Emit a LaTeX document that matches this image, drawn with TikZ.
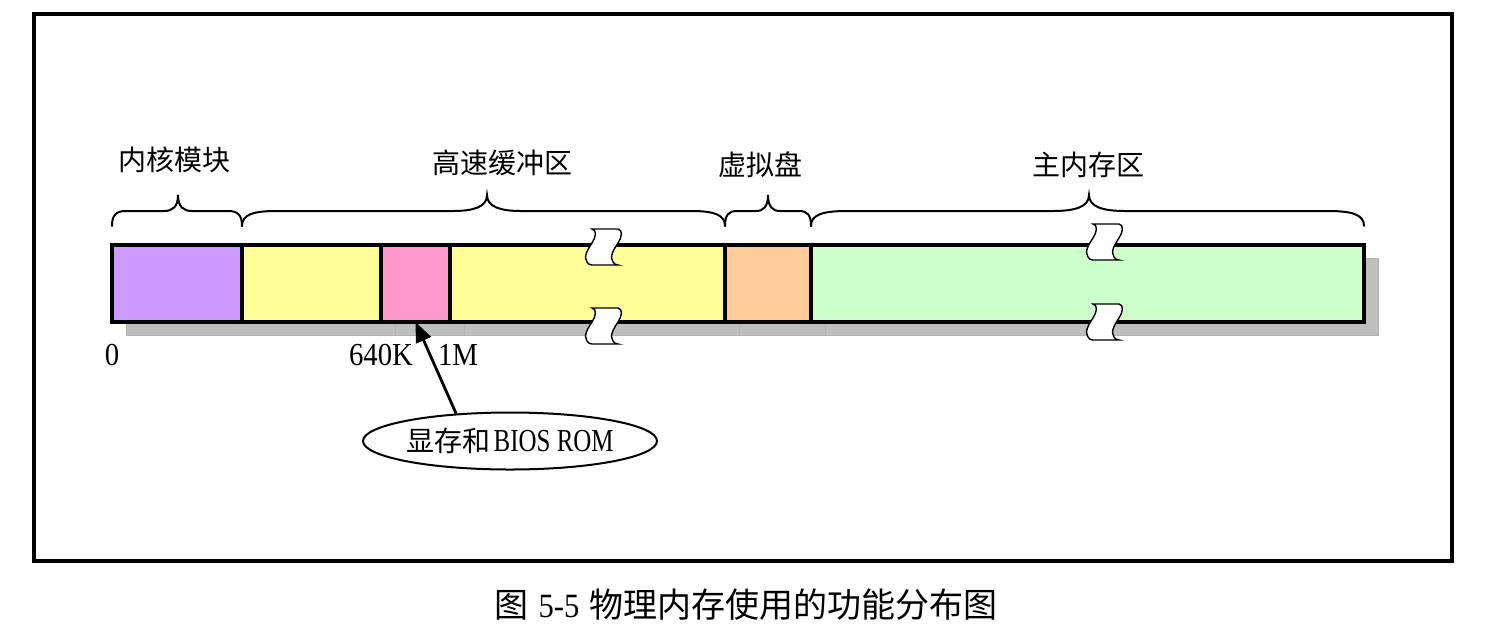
\documentclass[tikz,border=0pt]{standalone}
\usepackage{fontspec}
\newfontfamily\cjk{Noto Sans CJK SC}
\newfontfamily\latin[FakeStretch=0.9]{Liberation Serif}
\newfontfamily\latinnarrow[FakeStretch=0.78]{Liberation Serif}
\usetikzlibrary{arrows.meta,shapes.geometric,fit}

\definecolor{kernelc}{HTML}{CC99FF}
\definecolor{cachec}{HTML}{FFFF99}
\definecolor{romc}{HTML}{FF99CC}
\definecolor{diskc}{HTML}{FFCC99}
\definecolor{mainc}{HTML}{CCFFCC}
\definecolor{shadowc}{HTML}{BFBFBF}

% curly brace over a memory region: left end, right end, peak, end radius
\newcommand\regionbrace[4]{%
  \draw[bracestyle]
    (#1,226) .. controls (#1,215) and (#1+0.3*#4,211) .. (#1+#4,211)
    -- (#3-#4,211) .. controls (#3-0.4*#4,211) and (#3,207) .. (#3,195)
    .. controls (#3,207) and (#3+0.4*#4,211) .. (#3+#4,211)
    -- (#2-#4,211) .. controls (#2-0.3*#4,211) and (#2,215) .. (#2,226);%
}

\tikzset{
  segbox/.style={draw=black, line width=1.7pt, inner sep=0pt, outer sep=0pt},
  shadowbox/.style={fill=shadowc, draw=black!30, line width=0.4pt},
  bracestyle/.style={line width=1pt, line cap=round},
  cjklabel/.style={font=\cjk\fontsize{14}{16}\selectfont, inner sep=0pt},
  numlabel/.style={font=\latin\fontsize{16}{18}\selectfont, inner sep=0pt},
  breakmark/.pic={
    \filldraw[fill=white, draw=black, line width=0.7pt]
      (2,0) -- (28,0)
      .. controls (33,1) and (32,8) .. (28,14)
      .. controls (24,20) and (19,28) .. (23,33)
      .. controls (24,35) and (26,36) .. (28,36)
      -- (2,36)
      .. controls (0,36) and (-2,35) .. (-3,33)
      .. controls (-7,28) and (-2,20) .. (2,14)
      .. controls (6,8) and (7,1) .. (2,0) -- cycle;
  },
}

\begin{document}
\begin{tikzpicture}[x=0.5pt, y=-0.5pt]
\useasboundingbox (0,0) rectangle (1492,633);

% outer frame
\draw[line width=2pt] (34,14) rectangle (1452,561);

% drop shadows of the memory segments
\foreach \xa/\xb in {112/381, 381/450, 450/725, 725/811, 811/1364}
  \path[shadowbox] (\xa+14,258) rectangle (\xb+14,335);

% memory segments
\node[segbox, fill=kernelc, fit={(112,245) (242,322)}] (kernel) {};
\node[segbox, fill=cachec,  fit={(242,245) (381,322)}] (cachelow) {};
\node[segbox, fill=romc,    fit={(381,245) (450,322)}] (rom) {};
\node[segbox, fill=cachec,  fit={(450,245) (725,322)}] (cachehigh) {};
\node[segbox, fill=diskc,   fit={(725,245) (811,322)}] (ramdisk) {};
\node[segbox, fill=mainc,   fit={(811,245) (1364,322)}] (mainmem) {};

% break marks
\pic at (590,229) {breakmark};
\pic at (590,308) {breakmark};
\pic at (1091,224) {breakmark};
\pic at (1091,304) {breakmark};

% braces and region names
\regionbrace{112}{242}{178}{14}
\regionbrace{242}{725}{487}{34}
\regionbrace{725}{811}{768}{12}
\regionbrace{811}{1364}{1089}{36}
\node[cjklabel] (lkernel) at (174,160) {内核模块};
\node[cjklabel] (lcache)  at (502,163) {高速缓冲区};
\node[cjklabel] (ldisk)   at (760,165) {虚拟盘};
\node[cjklabel] (lmain)   at (1088,165) {主内存区};

% addresses
\node[numlabel] (a0)    at (112,355) {0};
\node[numlabel] (a640k) at (381,355) {640K};
\node[numlabel] (a1m)   at (458,355) {1M};

% callout
\node[ellipse, draw=black, line width=1pt, minimum width=147pt, minimum height=28.5pt, inner sep=0pt]
  (romnote) at (510,441)
  {{\cjk\fontsize{14}{16}\selectfont 显存和}\,{\latinnarrow\fontsize{16}{18}\selectfont BIOS ROM}};
\draw[line width=1.4pt, -{Triangle[length=10pt, width=8pt]}] (romnote.153) -- (rom.south);

% caption
\node[inner sep=0pt] (caption) at (746,605)
  {\fontsize{17}{20}\selectfont{\cjk 图} {\latin 5-5} {\cjk 物理内存使用的功能分布图}};
\end{tikzpicture}
\end{document}
